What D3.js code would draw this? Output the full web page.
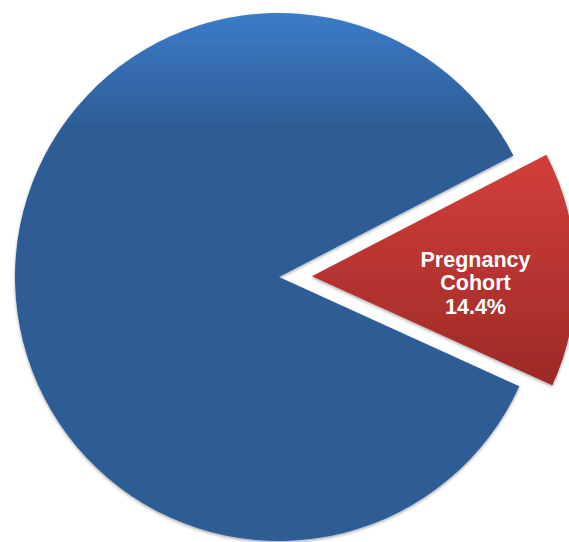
<!DOCTYPE html>
<html>
<head>
<meta charset="utf-8">
<script src="https://cdn.jsdelivr.net/npm/d3@7"></script>
<style>
  html, body { margin: 0; padding: 0; background: #fff; }
  svg { display: block; }
</style>
</head>
<body>
<svg id="chart" width="569" height="542"></svg>
<script>
// Data
const categories = ["Pregnancy Cohort", "Other"];
const values = [14.4, 85.6];
const labelLines = [["Pregnancy", "Cohort", "14.4%"], []];
const exploded = [true, false];

const W = 569, H = 542;
const cx = 279, cy = 277, R = 264;
const explodeDist = 33;
const startDeg = 62.6;

const svg = d3.select("#chart");
const defs = svg.append("defs");

const f = defs.append("filter").attr("id", "shadow")
  .attr("x", "-10%").attr("y", "-10%").attr("width", "120%").attr("height", "120%");
f.append("feDropShadow").attr("dx", 0).attr("dy", 1.5).attr("stdDeviation", 1.8)
  .attr("flood-color", "#000").attr("flood-opacity", 0.35);

const gBlue = defs.append("linearGradient").attr("id", "gBlue")
  .attr("gradientUnits", "userSpaceOnUse").attr("x1", 0).attr("y1", 12 - cy).attr("x2", 0).attr("y2", 125 - cy);
gBlue.append("stop").attr("offset", 0).attr("stop-color", "#3b7cc9");
gBlue.append("stop").attr("offset", 1).attr("stop-color", "#2d5d96");

const gRed = defs.append("linearGradient").attr("id", "gRed")
  .attr("gradientUnits", "userSpaceOnUse").attr("x1", 0).attr("y1", 150 - cy).attr("x2", 0).attr("y2", 392 - cy);
gRed.append("stop").attr("offset", 0).attr("stop-color", "#d43f3b");
gRed.append("stop").attr("offset", 1).attr("stop-color", "#9a2926");

const fills = ["url(#gRed)", "url(#gBlue)"];

const rad = d => d * Math.PI / 180;
const pie = d3.pie().sort(null).value(d => d)
  .startAngle(rad(startDeg)).endAngle(rad(startDeg + 360));
const arcs = pie(values);
const arc = d3.arc().innerRadius(0).outerRadius(R);

const g = svg.append("g").attr("transform", `translate(${cx},${cy})`);

// draw blue first, red on top
[1, 0].forEach(i => {
  const a = arcs[i];
  const mid = (a.startAngle + a.endAngle) / 2;
  const dx = exploded[i] ? explodeDist * Math.sin(mid) : 0;
  const dy = exploded[i] ? -explodeDist * Math.cos(mid) : 0;
  g.append("path")
    .attr("transform", `translate(${dx},${dy})`)
    .attr("d", arc(a))
    .attr("fill", fills[i])
    .attr("filter", "url(#shadow)");
});

// Label
arcs.forEach((a, i) => {
  const lines = labelLines[i];
  if (!lines.length) return;
  const lx = 475.5, base = 266.5, step = 23.8;
  const t = svg.append("text")
    .attr("text-anchor", "middle")
    .attr("fill", "#fff")
    .attr("font-family", "Liberation Sans, Arial, sans-serif")
    .attr("font-weight", "bold")
    .attr("font-size", 21.5);
  lines.forEach((s, k) => {
    t.append("tspan").attr("x", lx).attr("y", base + k * step).text(s);
  });
});
</script>
</body>
</html>
